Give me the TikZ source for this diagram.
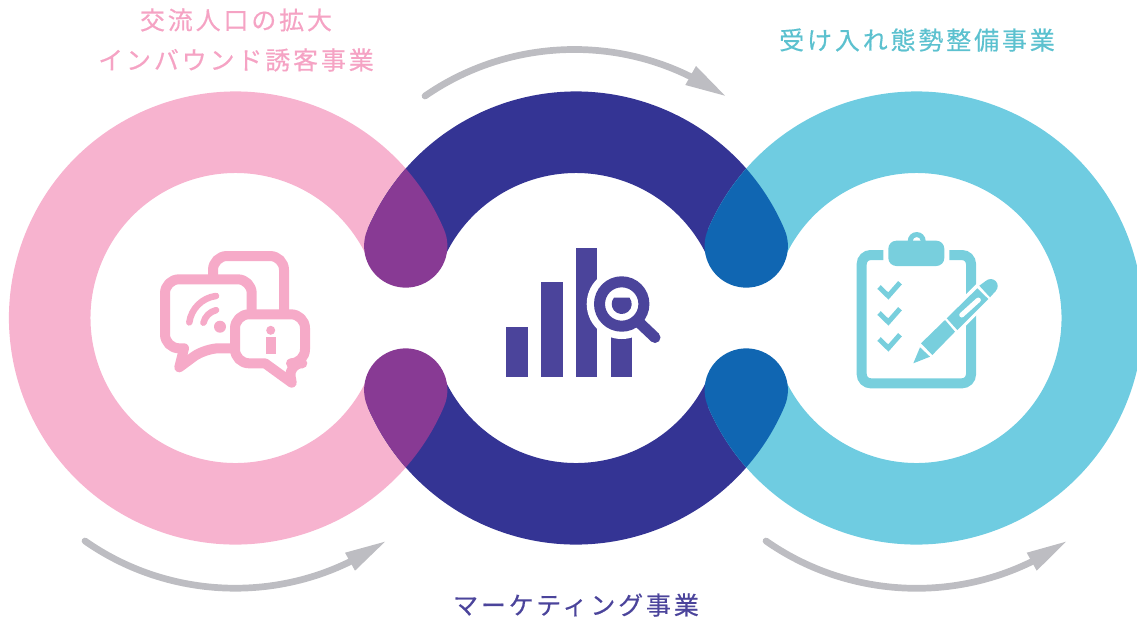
\documentclass[tikz,border=0pt]{standalone}
\usepackage{fontspec}
\usepackage{xcolor}
\usetikzlibrary{positioning, calc}
\newfontfamily\jpfont[LetterSpace=11.5, FakeBold=0.4]{Noto Sans CJK JP}
\definecolor{pinkring}{HTML}{F7B3CF}
\definecolor{navyring}{HTML}{343494}
\definecolor{cyanring}{HTML}{6FCCE1}
\definecolor{purpledrop}{HTML}{883A94}
\definecolor{bluedrop}{HTML}{1066B2}
\definecolor{pinkicon}{HTML}{F6AAC8}
\definecolor{navyicon}{HTML}{4B449B}
\definecolor{cyanicon}{HTML}{78CFDD}
\definecolor{pinktext}{HTML}{F5A3C4}
\definecolor{cyantext}{HTML}{5CC1CF}
\definecolor{flowgray}{HTML}{BDBDC2}

\begin{document}
\begin{tikzpicture}[
            x=0.01cm, y=-0.01cm,
            ring/.style={line width=0.815cm},
            flow/.style={draw=flowgray, line width=0.067cm, line cap=round, looseness=0.913},
            flowhead/.style={fill=flowgray},
            title/.style={font=\jpfont\fontsize{7.1pt}{9pt}\selectfont, inner sep=0pt},
            bubble/.style={draw=pinkicon, line width=0.1cm, line join=round, fill=white},
            wave/.style={draw=pinkicon, line width=0.065cm, line cap=round},
            checkmark/.style={draw=cyanicon, line width=0.05cm}
        ]
\clip (0,0) rectangle (1137,618);

\coordinate (left) at (235.5,318);
\coordinate (middle) at (576,318);
\coordinate (right) at (916.5,318);

% Rings
            \draw[ring, pinkring] ($(left)+(23:185.75)$) arc[start angle=23, end angle=337, radius=185.75];
            \draw[ring, navyring] ($(middle)+(203:185.75)$) arc[start angle=203, end angle=337, radius=185.75];
            \draw[ring, navyring] ($(middle)+(23:185.75)$) arc[start angle=23, end angle=157, radius=185.75];
            \draw[ring, cyanring] ($(right)+(-157:185.75)$) arc[start angle=-157, end angle=157, radius=185.75];

% Overlaps
            \foreach \lc/\rc/\col in {left/middle/purpledrop, middle/right/bluedrop}
                \foreach \s in {1,-1}
                    \fill[\col] ($(\lc)+({-41.27*\s}:226.5)$)
                        arc[start angle={-41.27*\s}, end angle={-22.93*\s}, radius=226.5]
                        arc[start angle={-22.93*\s}, end angle={202.93*\s}, radius=41.65]
                        arc[start angle={202.93*\s}, end angle={221.27*\s}, radius=226.5] -- cycle;

% Chat icon
            \draw[draw=pinkicon, line width=0.1cm, rounded corners=0.14cm] (213,330) rectangle (284,256);
            \draw[bubble] (208,279.3) [rounded corners=0.14cm] -- (251.7,279.3) -- (251.7,348.3) -- (205,348.3) [sharp corners] -- (179.3,367.3) -- (184,348.3) [rounded corners=0.14cm] -- (165,348.3) -- (165,279.3) -- cycle;
            \draw[bubble] (270,314.3) [rounded corners=0.14cm] -- (305,314.3) -- (305,363.3) -- (288.3,363.3) [sharp corners] -- (291.7,382.7) -- (265,363.3) [rounded corners=0.14cm] -- (235,363.3) -- (235,314.3) -- cycle;
            \fill[pinkicon] (220,326.7) circle[radius=6];
            \draw[wave] ($(220,326.7)+(193.5:17)$) arc[start angle=193.5, end angle=256.5, radius=17];
            \draw[wave] ($(220,326.7)+(188:31)$) arc[start angle=188, end angle=262.6, radius=31];
            \fill[pinkicon] (270.7,330.3) circle[radius=4.5];
            \fill[pinkicon] (266.3,337.3) rectangle (276,354);

% Bars icon
            \fill[navyicon] (506,327) rectangle (528,376.7);
            \fill[navyicon] (541,282) rectangle (563,376.7);
            \fill[navyicon] (576,248) rectangle (597,376.7);
            \fill[navyicon] (610.7,337.3) rectangle (631.7,376.7);
            \fill[white] (621.7,304) circle[radius=35];
            \draw[navyicon, line width=0.11cm] (621.7,304) circle[radius=22.2];
            \fill[navyicon] ($(621.7,304)+(-39:10)$) arc[start angle=-39, end angle=219, radius=10] -- cycle;
            \draw[navyicon, line width=0.11cm, line cap=round] (640,323.3) -- (655,337.5);

% Clipboard icon
            \draw[draw=cyanicon, line width=0.1cm, rounded corners=0.09cm] (883.3,255) -- (861.7,255) -- (861.7,383.3) -- (971,383.3) -- (971,255) -- (949.3,255);
            \fill[cyanicon, rounded corners=0.08cm] (888.3,240.7) rectangle (944.3,266);
            \fill[cyanicon, even odd rule] (916.7,241) circle[radius=9] (916.7,241) circle[radius=4];
            \foreach \d in {0,26,52}
                \draw[checkmark] (879,287+\d) -- (888.3,296+\d) -- (900,282.7+\d);
            \draw[white, line width=0.22cm] (940,336) -- (995,281);
            \fill[cyanicon] (913.3,363.3) -- (920,347.3) -- (930,356.7) -- cycle;
            \fill[cyanicon] (921,343.3) -- (932.3,355) -- (955,331.7) -- (945,320) -- cycle;
            \fill[cyanicon] (946.7,318.3) -- (957.3,330) -- (988.3,299) -- (977.3,288.3) -- cycle;
            \draw[white, line width=0.05cm, line cap=round] (961.7,315) -- (978.3,300);
            \fill[cyanicon] (979.3,285.7) -- (990,297.3) -- (995.7,291) -- (985.7,281) -- cycle;
            \fill[cyanicon] (990.7,286) circle[radius=7];

% Flow arrows
            \coordinate (flowA) at (425,96);
            \coordinate (neckA) at (690.7,76.7);
            \coordinate (flowB) at (85,541);
            \coordinate (neckB) at (350,561.7);
            \coordinate (flowC) at (766,541);
            \coordinate (neckC) at (1031.7,561.7);
            \draw[flow] (flowA) to[bend left=30.6] (neckA);
            \draw[flow] (flowB) to[bend right=30.6] (neckB);
            \draw[flow] (flowC) to[bend right=30.6] (neckC);
            \fill[flowhead] (696,66) -- (725,95.7) -- (685.3,85) -- cycle;
            \fill[flowhead] (345,552.7) -- (385,541.7) -- (355,570.7) -- cycle;
            \fill[flowhead] (1026.7,552.7) -- (1066,541.7) -- (1036.7,570.7) -- cycle;

% Titles
            \node[title, text=pinktext] (titleA) at (236,20) {交流人口の拡大};
            \node[title, text=pinktext] (titleB) at (236,60) {インバウンド誘客事業};
            \node[title, text=cyantext] (titleC) at (917,40) {受け入れ態勢整備事業};
            \node[title, text=navyicon] (titleD) at (576,605) {マーケティング事業};

\end{tikzpicture}
\end{document}
